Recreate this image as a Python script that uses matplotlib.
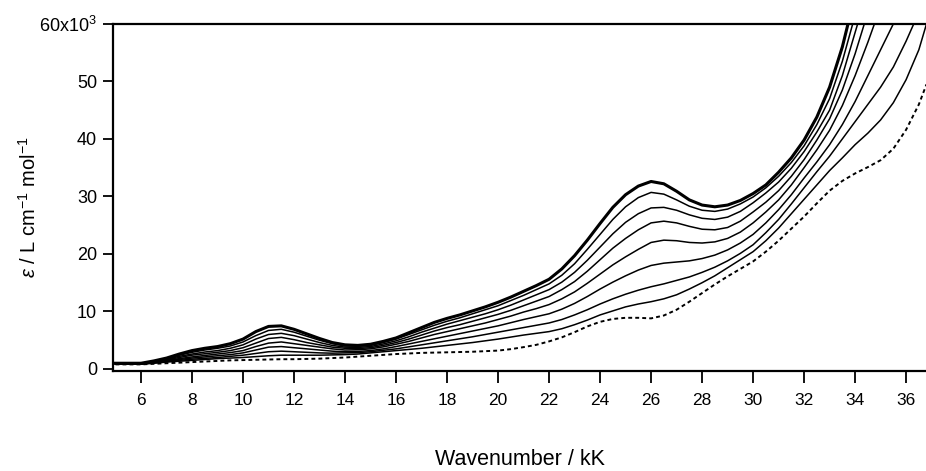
import matplotlib
matplotlib.use("Agg")
import matplotlib.pyplot as plt
from matplotlib.ticker import FixedLocator, FixedFormatter

plt.rcParams["font.family"] = ["Liberation Sans", "DejaVu Sans"]
plt.rcParams["mathtext.fontset"] = "custom"
plt.rcParams["mathtext.rm"] = "Liberation Sans"
plt.rcParams["mathtext.it"] = "Liberation Sans:italic"

# wavenumber grid (kK) shared by all spectra: 5.0, 5.5, ..., 36.5, 36.8
wavenumber = [5.0, 5.5, 6.0, 6.5, 7.0, 7.5, 8.0, 8.5, 9.0, 9.5, 10.0, 10.5, 11.0, 11.5,
              12.0, 12.5, 13.0, 13.5, 14.0, 14.5, 15.0, 15.5, 16.0, 16.5, 17.0, 17.5,
              18.0, 18.5, 19.0, 19.5, 20.0, 20.5, 21.0, 21.5, 22.0, 22.5, 23.0, 23.5,
              24.0, 24.5, 25.0, 25.5, 26.0, 26.5, 27.0, 27.5, 28.0, 28.5, 29.0, 29.5,
              30.0, 30.5, 31.0, 31.5, 32.0, 32.5, 33.0, 33.5, 34.0, 34.5, 35.0, 35.5,
              36.0, 36.5, 36.8]

# molar absorptivity, units of 10^3 L cm^-1 mol^-1 (final spectrum first)
eps_1 = [1.0, 1.0, 1.0, 1.4, 1.9, 2.6, 3.2, 3.6, 3.9, 4.4, 5.2, 6.5, 7.4, 7.5,
         6.9, 6.1, 5.3, 4.6, 4.2, 4.1, 4.3, 4.8, 5.4, 6.3, 7.2, 8.1,
         8.8, 9.4, 10.1, 10.8, 11.6, 12.5, 13.5, 14.5, 15.6, 17.4, 19.7, 22.4,
         25.3, 28.1, 30.3, 31.8, 32.6, 32.2, 30.9, 29.4, 28.5, 28.2, 28.5, 29.3,
         30.5, 32.0, 34.2, 36.7, 39.8, 43.8, 49.0, 56.0, 65.0, 74.0, 83.0, 92.0,
         100.0, 108.0, 112.0]
eps_2 = [1.0, 1.0, 1.0, 1.35, 1.8, 2.4, 2.9, 3.3, 3.6, 4.0, 4.7, 5.8, 6.7, 6.9,
         6.4, 5.7, 5.0, 4.4, 4.0, 3.95, 4.1, 4.6, 5.2, 6.0, 6.8, 7.6,
         8.3, 8.9, 9.6, 10.3, 11.0, 11.9, 12.8, 13.8, 14.8, 16.3, 18.3, 20.8,
         23.4, 26.0, 28.2, 29.8, 30.7, 30.4, 29.4, 28.3, 27.6, 27.4, 27.8, 28.7,
         29.9, 31.5, 33.5, 35.9, 38.8, 42.5, 47.0, 53.5, 61.5, 70.0, 78.0, 86.0,
         94.0, 102.0, 106.0]
eps_3 = [0.95, 0.95, 0.95, 1.3, 1.7, 2.2, 2.6, 2.95, 3.2, 3.6, 4.2, 5.2, 6.0, 6.2,
         5.8, 5.2, 4.6, 4.1, 3.8, 3.75, 3.9, 4.35, 4.9, 5.6, 6.4, 7.1,
         7.8, 8.4, 9.0, 9.6, 10.3, 11.1, 12.0, 12.9, 13.8, 15.1, 16.8, 18.9,
         21.2, 23.5, 25.5, 27.0, 28.0, 28.1, 27.6, 26.8, 26.2, 26.0, 26.4, 27.4,
         28.9, 30.6, 32.5, 34.9, 37.8, 41.2, 45.0, 51.0, 58.5, 66.0, 74.0, 82.0,
         90.0, 98.0, 102.0]
eps_4 = [0.95, 0.95, 0.95, 1.25, 1.6, 2.0, 2.4, 2.65, 2.9, 3.2, 3.7, 4.5, 5.3, 5.5,
         5.1, 4.6, 4.2, 3.8, 3.6, 3.55, 3.7, 4.1, 4.6, 5.2, 5.9, 6.6,
         7.2, 7.7, 8.3, 8.9, 9.5, 10.2, 11.0, 11.8, 12.6, 13.8, 15.2, 17.0,
         19.0, 21.0, 22.7, 24.2, 25.4, 25.7, 25.4, 24.8, 24.3, 24.2, 24.6, 25.7,
         27.3, 29.0, 31.0, 33.5, 36.4, 39.8, 43.5, 48.5, 54.8, 62.0, 69.0, 76.0,
         83.0, 90.0, 94.0]
eps_5 = [0.9, 0.9, 0.9, 1.2, 1.5, 1.8, 2.1, 2.35, 2.6, 2.85, 3.2, 3.9, 4.5, 4.7,
         4.4, 4.1, 3.8, 3.5, 3.3, 3.35, 3.5, 3.85, 4.3, 4.8, 5.4, 6.0,
         6.5, 7.0, 7.5, 8.0, 8.6, 9.2, 9.9, 10.5, 11.2, 12.2, 13.4, 14.9,
         16.5, 18.1, 19.5, 20.8, 22.0, 22.4, 22.3, 22.0, 21.9, 22.1, 22.7, 23.8,
         25.4, 27.3, 29.4, 32.0, 35.0, 38.1, 41.5, 45.8, 51.0, 56.8, 63.0, 69.0,
         75.0, 81.0, 85.0]
eps_6 = [0.9, 0.9, 0.9, 1.15, 1.4, 1.65, 1.9, 2.1, 2.3, 2.5, 2.8, 3.3, 3.8, 3.9,
         3.7, 3.5, 3.3, 3.1, 3.0, 3.05, 3.2, 3.5, 3.9, 4.35, 4.8, 5.25,
         5.7, 6.15, 6.6, 7.05, 7.5, 8.05, 8.6, 9.1, 9.6, 10.4, 11.4, 12.6,
         13.9, 15.1, 16.2, 17.2, 18.0, 18.4, 18.6, 18.8, 19.2, 19.8, 20.7, 21.9,
         23.4, 25.4, 27.7, 30.3, 33.2, 36.0, 39.0, 42.5, 46.5, 51.0, 55.5, 60.0,
         65.0, 70.0, 73.0]
eps_7 = [0.85, 0.85, 0.85, 1.05, 1.3, 1.5, 1.7, 1.85, 2.0, 2.2, 2.4, 2.7, 3.0, 3.1,
         3.0, 2.9, 2.8, 2.75, 2.8, 2.85, 3.0, 3.25, 3.5, 3.85, 4.2, 4.55,
         4.9, 5.25, 5.6, 6.0, 6.4, 6.8, 7.2, 7.6, 8.0, 8.6, 9.4, 10.3,
         11.3, 12.2, 13.0, 13.7, 14.3, 14.8, 15.4, 16.0, 16.8, 17.7, 18.8, 20.1,
         21.6, 23.7, 26.0, 28.7, 31.5, 34.3, 37.0, 40.0, 43.0, 46.0, 49.0, 52.5,
         57.0, 62.0, 65.0]
eps_8 = [0.85, 0.85, 0.85, 1.0, 1.2, 1.35, 1.5, 1.65, 1.8, 1.9, 2.0, 2.15, 2.3, 2.4,
         2.4, 2.4, 2.4, 2.45, 2.5, 2.6, 2.8, 3.0, 3.2, 3.4, 3.6, 3.85,
         4.1, 4.35, 4.6, 4.9, 5.2, 5.55, 5.9, 6.2, 6.5, 7.0, 7.7, 8.5,
         9.4, 10.1, 10.8, 11.3, 11.7, 12.2, 12.9, 13.9, 15.0, 16.2, 17.6, 19.0,
         20.4, 22.3, 24.5, 27.0, 29.5, 32.0, 34.5, 36.7, 39.0, 41.0, 43.3, 46.3,
         50.3, 55.5, 60.0]
# starting spectrum (dotted)
eps_0 = [0.8, 0.8, 0.8, 0.9, 1.0, 1.1, 1.2, 1.3, 1.4, 1.5, 1.55, 1.6, 1.65, 1.7,
         1.7, 1.75, 1.8, 1.9, 2.0, 2.15, 2.3, 2.45, 2.6, 2.7, 2.8, 2.85,
         2.9, 2.95, 3.0, 3.1, 3.2, 3.45, 3.8, 4.2, 4.8, 5.5, 6.4, 7.4,
         8.2, 8.7, 8.9, 8.9, 8.8, 9.3, 10.3, 11.7, 13.2, 14.7, 16.1, 17.4,
         18.7, 20.4, 22.3, 24.4, 26.5, 28.8, 31.0, 32.7, 34.0, 35.1, 36.3, 38.3,
         41.6, 46.0, 49.5]

x_ticks = [6, 8, 10, 12, 14, 16, 18, 20, 22, 24, 26, 28, 30, 32, 34, 36]
y_ticks = [0, 10, 20, 30, 40, 50, 60]
y_tick_labels = ["0", "10", "20", "30", "40", "50", r"60x10$^{3}$"]

fig = plt.figure(figsize=(9.26, 4.71), dpi=100)
ax = fig.add_axes([0.122, 0.2123, 0.878, 0.737])

ax.plot(wavenumber, eps_0, color="black", lw=1.4, ls=(0, (2.0, 1.6)))
for series in [eps_8, eps_7, eps_6, eps_5, eps_4, eps_3, eps_2]:
    ax.plot(wavenumber, series, color="black", lw=1.1)
ax.plot(wavenumber, eps_1, color="black", lw=2.2)

ax.set_xlim(4.9, 36.78)
ax.set_ylim(-0.35, 60)

ax.xaxis.set_major_locator(FixedLocator(x_ticks))
ax.yaxis.set_major_locator(FixedLocator(y_ticks))
ax.yaxis.set_major_formatter(FixedFormatter(y_tick_labels))

for side in ["left", "bottom", "top"]:
    ax.spines[side].set_linewidth(1.6)
    ax.spines[side].set_color("black")
ax.spines["right"].set_visible(False)

ax.tick_params(axis="both", direction="out", colors="black", width=1.3)
ax.tick_params(axis="y", length=7.5, pad=4, labelsize=13)
ax.tick_params(axis="x", length=8.5, pad=7, labelsize=12.5)

ax.set_xlabel("Wavenumber / kK", fontsize=15.5)
ax.xaxis.set_label_coords(0.5, -0.254)
ax.xaxis.label.set_va("center")

ax.set_ylabel(r"$\varepsilon$ / L cm$^{-1}$ mol$^{-1}$", fontsize=14.5)
ax.yaxis.set_label_coords(-0.104, 0.473)
ax.yaxis.label.set_va("center")

fig.savefig("out.png", dpi=100)
